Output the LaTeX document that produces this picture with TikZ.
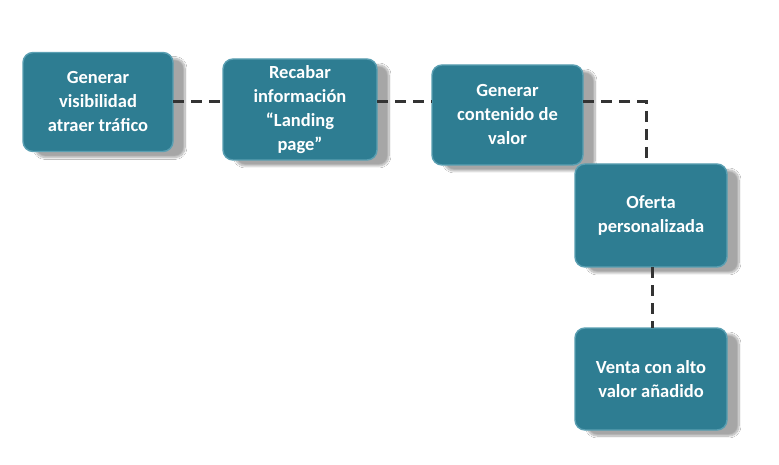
\documentclass[tikz,border=0pt]{standalone}
\usepackage{fontspec}
\setmainfont{Carlito}
\usetikzlibrary{shadows.blur}
\definecolor{boxfill}{HTML}{2E7D92}
\definecolor{boxedge}{HTML}{5A9FB2}
\definecolor{linecol}{HTML}{333333}
\tikzset{
  stepbox/.style={rounded corners=10pt, fill=boxfill, draw=boxedge, line width=1.4pt,
    text=white, font=\bfseries\fontsize{18.5}{24}\selectfont, align=center,
    inner sep=0pt, outer sep=0pt,
    blur shadow={shadow xshift=12pt, shadow yshift=-6pt, shadow blur steps=12, shadow opacity=35}},
  conn/.style={draw=linecol, line width=3pt, dash pattern=on 11pt off 7pt}
}
\begin{document}
\begin{tikzpicture}[x=1pt,y=1pt]
\useasboundingbox (0,0) rectangle (779,464);
\fill[white] (0,0) rectangle (779,464);
\node[stepbox, minimum width=150pt, minimum height=99pt] (b1) at (98,362) {Generar\\visibilidad\\atraer tráfico};
\node[stepbox, minimum width=154pt, minimum height=101pt] (b2) at (300,354.5) {Recabar\\información\\“Landing\\page”};
\node[stepbox, minimum width=151pt, minimum height=100pt] (b3) at (507.5,349) {Generar\\contenido de\\valor};
\node[stepbox, minimum width=152pt, minimum height=103pt] (b4) at (651,248.5) {Oferta\\personalizada};
\node[stepbox, minimum width=152pt, minimum height=102pt] (b5) at (651,85) {Venta con alto\\valor añadido};
\coordinate (c1) at (646,362);
\draw[conn] (b1.east |- 0,362) -- (b2.west |- 0,362);
\draw[conn] (b2.east |- 0,362) -- (b3.west |- 0,362);
\draw[conn] (b3.east |- 0,362) -- (c1) -- (c1 |- b4.north);
\draw[conn] (652,0 |- b4.south) -- (652,0 |- b5.north);
\end{tikzpicture}
\end{document}
